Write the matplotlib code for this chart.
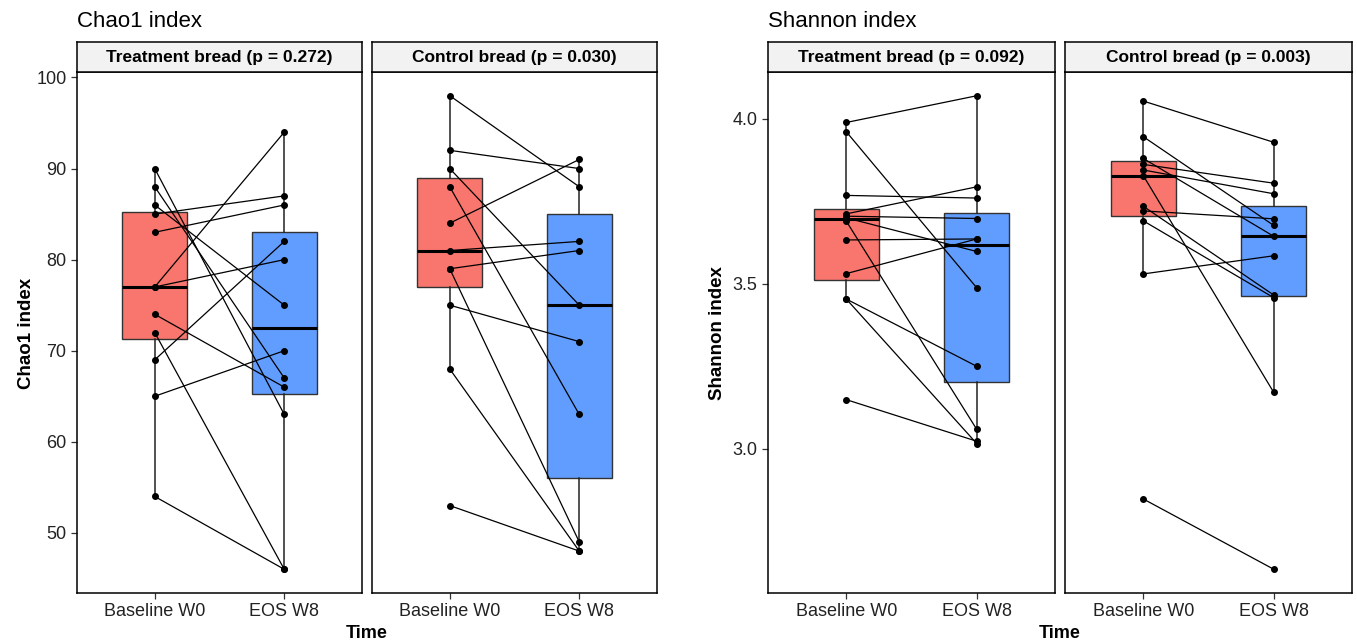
import matplotlib
matplotlib.use("Agg")
import matplotlib.pyplot as plt
import numpy as np

plt.rcParams['font.family'] = ['Liberation Sans', 'DejaVu Sans']

# data: paired values, same order in baseline / EOS
groups = ["Baseline W0", "EOS W8"]

chao_trt_base = [90, 88, 86, 85, 83, 77, 77, 74, 72, 69, 65, 54]
chao_trt_eos = [63, 67, 75, 87, 86, 94, 80, 66, 46, 82, 70, 46]
chao_ctl_base = [98, 92, 90, 88, 84, 81, 79, 79, 75, 68, 53]
chao_ctl_eos = [88, 90, 75, 63, 91, 82, 81, 49, 71, 48, 48]

sha_trt_base = [3.989, 3.961, 3.768, 3.712, 3.705, 3.700, 3.690, 3.633, 3.531, 3.454, 3.454, 3.149]
sha_trt_eos = [4.070, 3.488, 3.760, 3.794, 3.698, 3.598, 3.059, 3.636, 3.636, 3.250, 3.016, 3.023]
sha_ctl_base = [4.054, 3.946, 3.880, 3.862, 3.845, 3.828, 3.735, 3.721, 3.691, 3.530, 2.848]
sha_ctl_eos = [3.929, 3.677, 3.644, 3.805, 3.773, 3.171, 3.466, 3.697, 3.458, 3.585, 2.635]

strip_titles = ["Treatment bread (p = 0.272)", "Control bread (p = 0.030)",
                "Treatment bread (p = 0.092)", "Control bread (p = 0.003)"]

W, H = 1357, 642
fig = plt.figure(figsize=(W / 100, H / 100), dpi=100)

box_cols = ['#F8766D', '#619CFF']


def px_ax(x0, x1, ytop, ybot):
    return fig.add_axes([x0 / W, 1 - ybot / H, (x1 - x0) / W, (ybot - ytop) / H])


def panel(x0, x1, base, eos, ylim, yticks, ylabels, strip, show_y):
    ax = px_ax(x0, x1, 72, 593)
    bp = ax.boxplot([base, eos], positions=[1, 2], widths=0.5, whis=1.5,
                    showfliers=False, patch_artist=True, showcaps=False,
                    medianprops=dict(color='black', lw=2.2),
                    whiskerprops=dict(color='#222222', lw=1.1),
                    boxprops=dict(edgecolor='#333333', lw=1.0), zorder=1)
    for patch, c in zip(bp['boxes'], box_cols):
        patch.set_facecolor(c)
    for b, e in zip(base, eos):
        ax.plot([1, 2], [b, e], color='black', lw=0.9, zorder=3)
    ax.scatter([1] * len(base), base, s=16, color='black', zorder=4)
    ax.scatter([2] * len(eos), eos, s=16, color='black', zorder=4)
    ax.set_xlim(0.4, 2.6)
    ax.set_ylim(*ylim)
    ax.set_xticks([1, 2])
    ax.set_xticklabels(groups, fontsize=13, color='#222222')
    ax.set_yticks(yticks)
    if show_y:
        ax.set_yticklabels(ylabels, fontsize=13, color='#222222')
    else:
        ax.tick_params(axis='y', left=False, labelleft=False)
    ax.tick_params(axis='both', direction='out', length=4.5, width=0.9, color='#333333', pad=3)
    for s in ax.spines.values():
        s.set_linewidth(1.1)
        s.set_color('black')

    st = px_ax(x0, x1, 42, 72)
    st.set_facecolor('#F2F2F2')
    st.set_xticks([])
    st.set_yticks([])
    for s in st.spines.values():
        s.set_linewidth(1.1)
    st.text(0.5, 0.47, strip, ha='center', va='center', fontsize=12.5,
            fontweight='bold', transform=st.transAxes)
    return ax


chao_lim = (43.4, 100.6)
sha_lim = (2.563, 4.142)
panel(77, 362, chao_trt_base, chao_trt_eos, chao_lim, [50, 60, 70, 80, 90, 100],
      ['50', '60', '70', '80', '90', '100'], strip_titles[0], True)
panel(372, 657, chao_ctl_base, chao_ctl_eos, chao_lim, [50, 60, 70, 80, 90, 100],
      [], strip_titles[1], False)
panel(768, 1055, sha_trt_base, sha_trt_eos, sha_lim, [3.0, 3.5, 4.0],
      ['3.0', '3.5', '4.0'], strip_titles[2], True)
panel(1065, 1352, sha_ctl_base, sha_ctl_eos, sha_lim, [3.0, 3.5, 4.0],
      [], strip_titles[3], False)

# titles and axis labels
fig.text(77 / W, 1 - 27 / H, "Chao1 index", fontsize=16, ha='left', va='baseline')
fig.text(768 / W, 1 - 27 / H, "Shannon index", fontsize=16, ha='left', va='baseline')
fig.text(27 / W, 1 - 333 / H, "Chao1 index", fontsize=13.5, fontweight='bold',
         rotation=90, ha='center', va='center')
fig.text(717 / W, 1 - 333 / H, "Shannon index", fontsize=13.5, fontweight='bold',
         rotation=90, ha='center', va='center')
fig.text(367 / W, 1 - 633 / H, "Time", fontsize=13, fontweight='bold', ha='center', va='center')
fig.text(1060 / W, 1 - 633 / H, "Time", fontsize=13, fontweight='bold', ha='center', va='center')

plt.savefig("out.png", dpi=100)
plt.close()
